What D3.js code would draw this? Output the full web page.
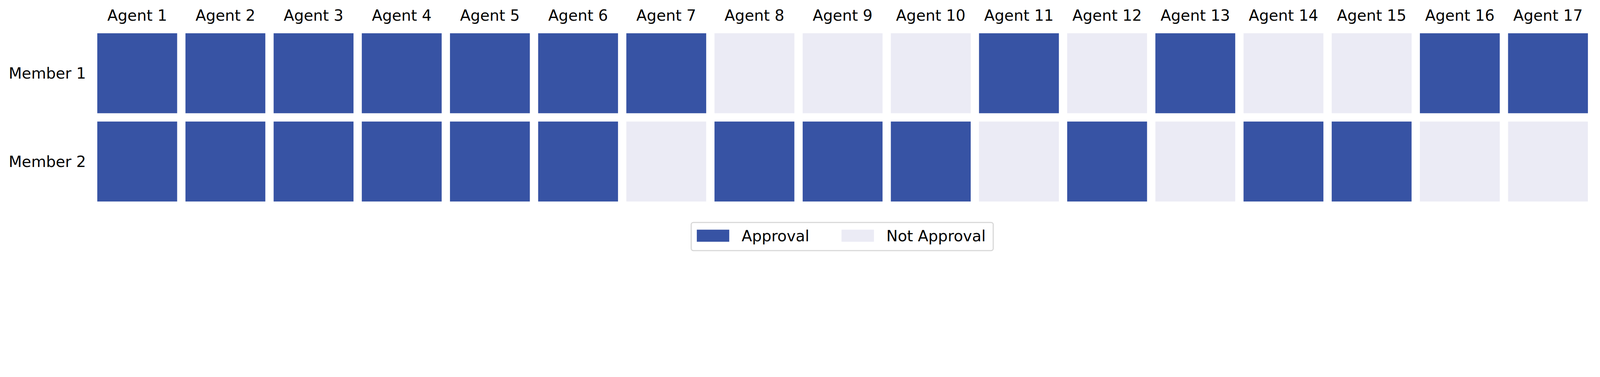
<!DOCTYPE html>
<html>
<head>
<meta charset="utf-8">
<script src="https://cdn.jsdelivr.net/npm/d3@7"></script>
<style>
  html, body { margin: 0; padding: 0; background: #fff; overflow: hidden; }
  svg { display: block; }
  text { font-family: "DejaVu Sans", sans-serif; fill: #000; }
</style>
</head>
<body>
<div class="container"></div>
<script>
const agents = d3.range(1, 18).map(i => 'Agent ' + i);
const members = ['Member 1', 'Member 2'];
// 1 = Approval, 0 = Not Approval
const member1 = [1, 1, 1, 1, 1, 1, 1, 0, 0, 0, 1, 0, 1, 0, 0, 1, 1];
const member2 = [1, 1, 1, 1, 1, 1, 0, 1, 1, 1, 0, 1, 0, 1, 1, 0, 0];
const legendLabels = ['Approval', 'Not Approval'];

const width = 5970;
const height = 964;

// draw in reference pixels, scale to whatever the window really is
const svg = d3.select('.container').append('svg')
    .attr('viewBox', `0 0 ${width} ${height}`)
    .attr('preserveAspectRatio', 'xMinYMin meet')
    .style('width', '100vw')
    .style('height', (100 * height / width) + 'vw');

const xb = d3.scaleBand().domain(agents).range([363 - 15.5, 363 - 15.5 + 17 * 329]).padding(31 / 329).paddingOuter(31 / 329 / 2);
const y = d3.scaleBand().domain(members).range([124 - 15.5, 124 - 15.5 + 2 * 329]).padding(31 / 329).paddingOuter(31 / 329 / 2);

const color = d3.scaleOrdinal().domain([1, 0]).range(['#3753a4', '#ebebf5']);

const cells = [];
[member1, member2].forEach((row, r) => row.forEach((v, c) => cells.push({ m: members[r], a: agents[c], v })));

svg.append('g').selectAll('rect').data(cells).enter().append('rect')
    .attr('x', d => xb(d.a))
    .attr('y', d => y(d.m))
    .attr('width', xb.bandwidth())
    .attr('height', y.bandwidth())
    .attr('fill', d => color(d.v));

svg.append('g').selectAll('text').data(agents).enter().append('text')
    .attr('x', d => xb(d) + xb.bandwidth() / 2)
    .attr('y', 77)
    .attr('text-anchor', 'middle')
    .attr('font-size', 57)
    .text(d => d);

svg.append('g').selectAll('text').data(members).enter().append('text')
    .attr('x', 321)
    .attr('y', d => y(d) + y.bandwidth() / 2)
    .attr('dy', '0.35em')
    .attr('text-anchor', 'end')
    .attr('font-size', 57)
    .text(d => d);

// legend
const lg = svg.append('g');
lg.append('rect')
    .attr('x', 2579).attr('y', 829).attr('width', 1127).attr('height', 105)
    .attr('rx', 8).attr('fill', '#fff').attr('stroke', '#d6d6d6').attr('stroke-width', 4);
const lx = [2600, 3140];
legendLabels.forEach((label, i) => {
    lg.append('rect').attr('x', lx[i]).attr('y', 856).attr('width', 121).attr('height', 45)
        .attr('fill', color(i === 0 ? 1 : 0));
    lg.append('text').attr('x', lx[i] + 167).attr('y', 899).attr('font-size', 57).text(label);
});
</script>
</body>
</html>
